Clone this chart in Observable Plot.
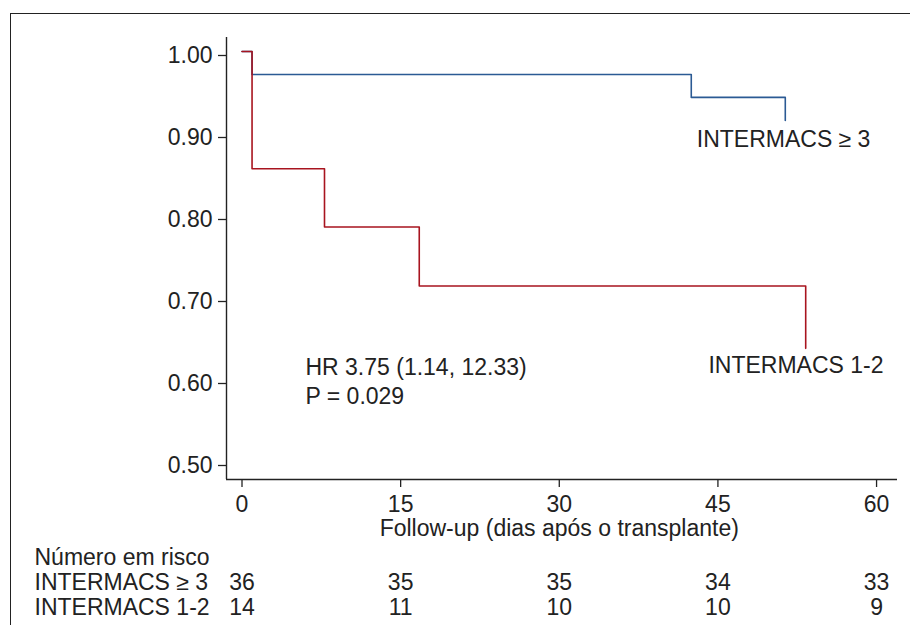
<!DOCTYPE html>
<html>
<head>
<meta charset="utf-8">
<script src="https://cdn.jsdelivr.net/npm/d3@7"></script>
<script src="https://cdn.jsdelivr.net/npm/@observablehq/plot@0.6"></script>
<style>
  html, body { margin: 0; padding: 0; background: #fff; overflow: hidden; }
  #wrap { position: relative; width: 910px; height: 625px; }
  #border { position: absolute; left: 10px; top: 13px; width: 1000px; height: 1000px;
            border: 1.6px solid #222; pointer-events: none; box-sizing: border-box; }
</style>
</head>
<body>
<div id="wrap"><div id="border"></div></div>
<script>
// ---- data ----
const xTicks = [0, 15, 30, 45, 60];
const yTicks = [0.5, 0.6, 0.7, 0.8, 0.9, 1.0];

// Kaplan-Meier steps (days, survival)
const lowDays = [0, 0.95, 7.8, 16.76, 53.3];
const lowSurv = [1.0, 0.857, 0.786, 0.714, 0.638];
const highDays = [0, 0.95, 42.48, 51.37];
const highSurv = [1.0, 0.972, 0.944, 0.916];

const groupNames = ["INTERMACS \u2265 3", "INTERMACS 1-2"];
const riskHigh = [36, 35, 35, 34, 33];
const riskLow = [14, 11, 10, 10, 9];
const riskTitle = "N\u00famero em risco";
const xLabel = "Follow-up (dias ap\u00f3s o transplante)";
const hrText = "HR 3.75 (1.14, 12.33)\nP = 0.029";

// ---- build tables ----
const lowData = lowDays.map((d, i) => ({day: d, s: lowSurv[i]}));
const highData = highDays.map((d, i) => ({day: d, s: highSurv[i]}));
const riskHighData = xTicks.map((t, i) => ({day: t, n: riskHigh[i]}));
const riskLowData = xTicks.map((t, i) => ({day: t, n: riskLow[i]}));

const ink = "#222";
const red = "#a8141f";
const blue = "#2b5a94";
const fs = 23;

const chart = Plot.plot({
  width: 910,
  height: 625,
  marginLeft: 226,
  marginRight: 13,
  marginTop: 37,
  marginBottom: 146,
  style: {fontFamily: "'Liberation Sans', Arial, Helvetica, sans-serif", fontSize: fs + "px", color: ink, background: "transparent", overflow: "visible"},
  x: {domain: [-1.466, 61.98]},
  y: {domain: [0.47805, 1.01707]},
  marks: [
    Plot.ruleX([-1.466], {stroke: ink, strokeWidth: 1.4}),
    Plot.ruleY([0.47805], {stroke: ink, strokeWidth: 1.4}),
    Plot.axisX({ticks: xTicks, tickSize: 8, tickPadding: 8, fontSize: fs, label: null, stroke: ink, strokeWidth: 1.3, fill: ink, tickFormat: d => String(d)}),
    Plot.axisY({ticks: yTicks, tickSize: 8, tickPadding: 6, fontSize: fs, label: null, stroke: ink, strokeWidth: 1.3, fill: ink, dy: 4, tickFormat: d3.format(".2f")}),
    Plot.line(highData, {x: "day", y: "s", curve: "step-after", stroke: blue, strokeWidth: 1.6}),
    Plot.line(lowData, {x: "day", y: "s", curve: "step-after", stroke: red, strokeWidth: 1.6}),
    Plot.text([groupNames[0]], {x: 43.0, y: 0.8841, text: d => d, textAnchor: "start", lineAnchor: "bottom", fontSize: fs, fill: ink}),
    Plot.text([groupNames[1]], {x: 44.1, y: 0.6077, text: d => d, textAnchor: "start", lineAnchor: "bottom", fontSize: fs, fill: ink}),
    Plot.text([hrText], {x: 6.0, y: 0.5707, text: d => d, textAnchor: "start", lineAnchor: "bottom", lineHeight: 1.22, fontSize: fs, fill: ink}),
    // x axis title
    Plot.text([xLabel], {x: 30, frameAnchor: "bottom", dy: 56, text: d => d, lineAnchor: "bottom", fontSize: fs, fill: ink}),
    // risk table
    Plot.text([riskTitle], {frameAnchor: "bottom-left", dx: -192, dy: 85, text: d => d, textAnchor: "start", lineAnchor: "bottom", fontSize: fs, fill: ink}),
    Plot.text([groupNames[0]], {frameAnchor: "bottom-left", dx: -192, dy: 110, text: d => d, textAnchor: "start", lineAnchor: "bottom", fontSize: fs, fill: ink}),
    Plot.text([groupNames[1]], {frameAnchor: "bottom-left", dx: -192, dy: 135, text: d => d, textAnchor: "start", lineAnchor: "bottom", fontSize: fs, fill: ink}),
    Plot.text(riskHighData, {x: "day", frameAnchor: "bottom", dy: 110, text: "n", lineAnchor: "bottom", fontSize: fs, fill: ink}),
    Plot.text(riskLowData, {x: "day", frameAnchor: "bottom", dy: 135, text: "n", lineAnchor: "bottom", fontSize: fs, fill: ink})
  ]
});
document.getElementById("wrap").prepend(chart);
</script>
</body>
</html>
